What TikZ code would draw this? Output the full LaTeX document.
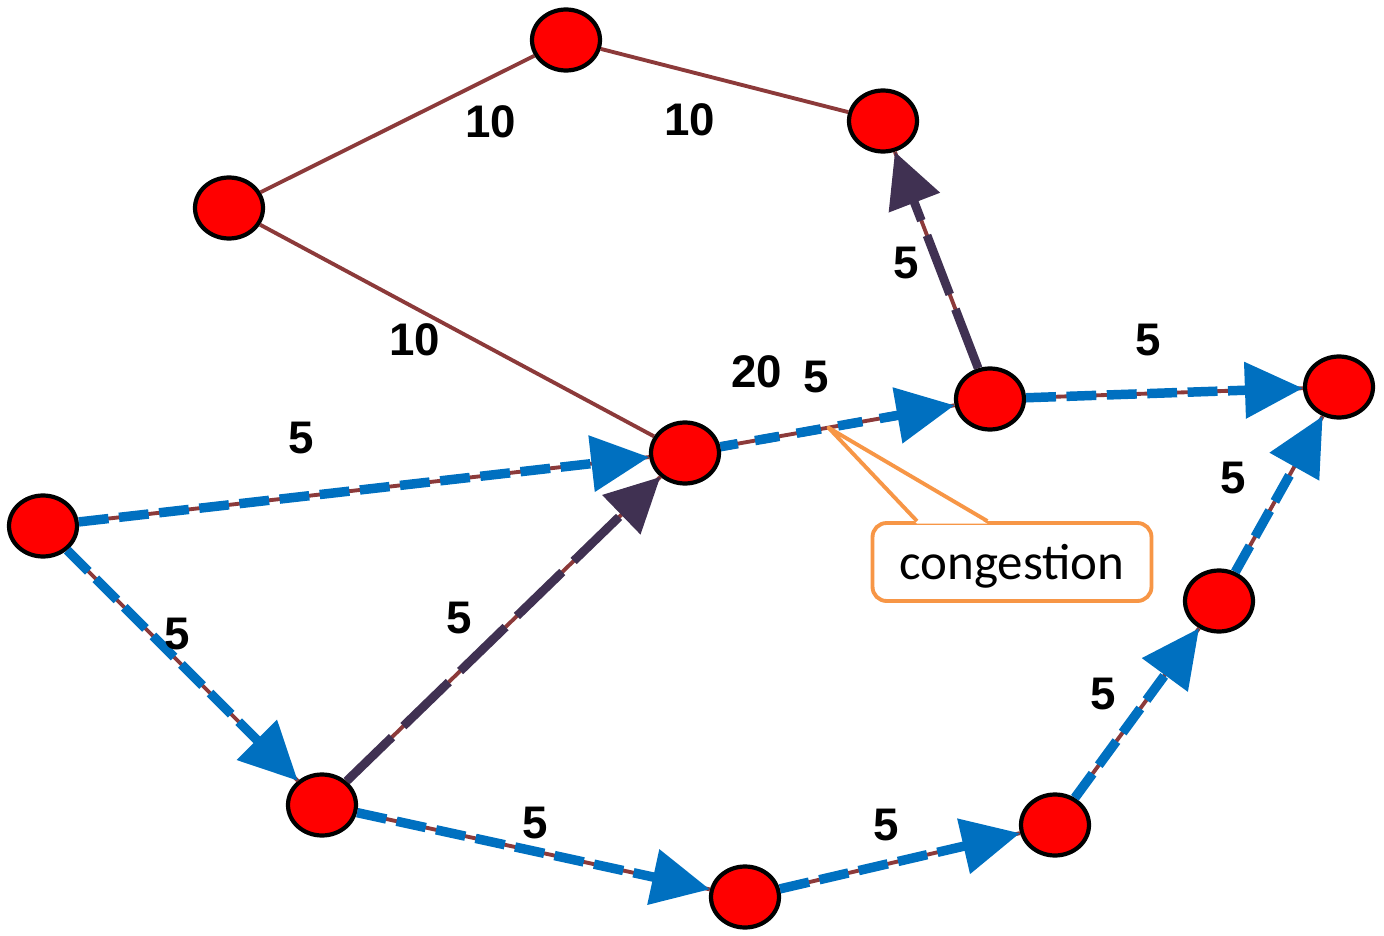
\documentclass[tikz,border=0pt]{standalone}
\usepackage{fontspec}
\setmainfont{Liberation Sans}
\newfontfamily\calloutfont{Carlito}
\usetikzlibrary{arrows.meta,shapes.geometric,calc}

\begin{document}
\begin{tikzpicture}[x=0.02cm,y=-0.02cm,
    router/.style={ellipse,draw=black,fill=red,line width=2.4pt,
      minimum width=1.36cm,minimum height=1.22cm,inner sep=0pt},
    link/.style={draw=brown1,line width=2.2pt},
    bflow/.style={draw=blue1,line width=5.4pt,dash pattern=on 17pt off 6pt,
      -{Triangle[length=33pt,width=31pt]}},
    pflow/.style={draw=purple1,line width=5pt,dash pattern=on 36pt off 9pt,
      -{Triangle[length=31pt,width=30pt]}},
    wt/.style={font=\bfseries\fontsize{26}{26}\selectfont},
    callout/.style={draw=orange1,fill=white,line width=2.2pt,rounded corners=8pt,
      minimum width=5.58cm,minimum height=1.56cm,inner sep=0pt,
      font=\calloutfont\fontsize{29}{29}\selectfont}]
    \definecolor{brown1}{RGB}{140, 58, 58}
    \definecolor{blue1}{RGB}{0, 112, 192}
    \definecolor{purple1}{RGB}{64, 49, 82}
    \definecolor{orange1}{RGB}{247, 150, 70}

    \useasboundingbox (0,0) rectangle (1384,936);

    % routers
    \node[router] (a) at (566,40) {};
    \node[router] (b) at (883,121) {};
    \node[router] (c) at (229,208) {};
    \node[router] (d) at (685,453) {};
    \node[router] (e) at (990,399) {};
    \node[router] (f) at (1339,387) {};
    \node[router] (g) at (43,526) {};
    \node[router] (h) at (322,805) {};
    \node[router] (i) at (745,897) {};
    \node[router] (j) at (1055,825) {};
    \node[router] (k) at (1219,601) {};

    % links
    \draw[link] (c) -- (a);
    \draw[link] (a) -- (b);
    \draw[link] (c) -- (d);
    \draw[link] (g) -- (d);
    \draw[link] (g) -- (h);
    \draw[link] (h) -- (d);
    \draw[link] (d) -- (e);
    \draw[link] (e) -- (b);
    \draw[link] (e) -- (f);
    \draw[link] (h) -- (i);
    \draw[link] (i) -- (j);
    \draw[link] (j) -- (k);
    \draw[link] (k) -- (f);

    % flows
    \draw[pflow] (h) -- (d);
    \draw[pflow] (e) -- (b);
    \draw[pflow,-,dash pattern=on 10pt off 14pt,shorten >=33pt] (d) -- (e);
    \draw[bflow,dash pattern=on 14pt off 10pt,dash phase=4pt] (d) -- (e);
    \draw[bflow] (g) -- (d);
    \draw[bflow] (g) -- (h);
    \draw[bflow] (h) -- (i);
    \draw[bflow] (i) -- (j);
    \draw[bflow] (j) -- (k);
    \draw[bflow] (k) -- (f);
    \draw[bflow] (e) -- (f);

    % weights
    \node[wt] (w1) at (491,122) {10};
    \node[wt] (w2) at (690,120) {10};
    \node[wt] (w3) at (415,340) {10};
    \node[wt] (w4) at (757,372) {20};
    \node[wt] (w5) at (816,377) {5};
    \node[wt] (w6) at (301,438) {5};
    \node[wt] (w7) at (177,634) {5};
    \node[wt] (w8) at (459,618) {5};
    \node[wt] (w9) at (906,263) {5};
    \node[wt] (w10) at (1148,340) {5};
    \node[wt] (w11) at (1233,478) {5};
    \node[wt] (w12) at (535,823) {5};
    \node[wt] (w13) at (886,825) {5};
    \node[wt] (w14) at (1103,694) {5};

    % congestion callout
    \coordinate (hot) at ($(d)!0.47!(e)$);
    \node[callout,text depth=-3pt] (cong) at (1012,562) {congestion};
    \coordinate (tailL) at ($(cong.north west)!0.164!(cong.north east)$);
    \coordinate (tailR) at ($(cong.north west)!0.413!(cong.north east)$);
    \fill[white] ([yshift=-1.5pt]tailL) -- (hot) -- ([yshift=-1.5pt]tailR) -- cycle;
    \draw[orange1,line width=2.2pt,line join=round] (tailL) -- (hot) -- (tailR);
\end{tikzpicture}
\end{document}
